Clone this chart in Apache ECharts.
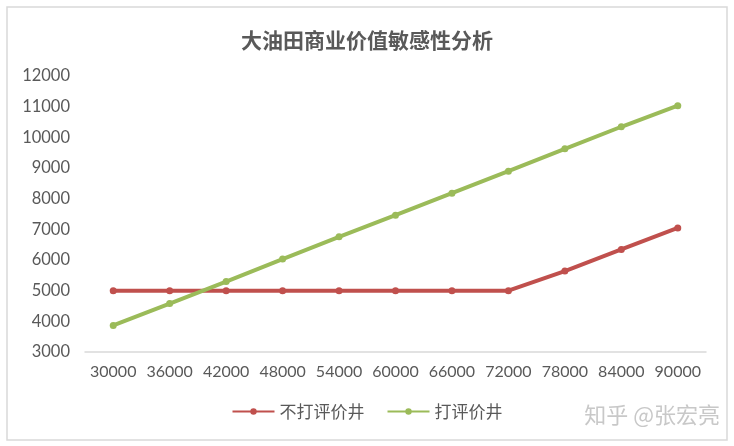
<!DOCTYPE html>
<html>
<head>
  <meta charset="utf-8" />
  <title>大油田商业价值敏感性分析</title>
  <script src="https://cdn.jsdelivr.net/npm/echarts@6/dist/echarts.min.js"></script>
  <style>
    html, body { margin: 0; padding: 0; background: #fff; }
    #chart-main { width: 734px; height: 446px; }
  </style>
</head>
<body>
<div id="chart-main"></div>
<script>
var categories = ['30000', '36000', '42000', '48000', '54000', '60000', '66000', '72000', '78000', '84000', '90000'];
var noWellValues = [5000, 5000, 5000, 5000, 5000, 5000, 5000, 5000, 5640, 6345, 7045];
var wellValues = [3865, 4580, 5295, 6030, 6755, 7460, 8180, 8895, 9625, 10345, 11030];
var seriesNames = ['不打评价井', '打评价井'];

var myChart = echarts.init(document.getElementById('chart-main'));

var textColor = '#595959';
var numFont = 'Lato, "Noto Sans", sans-serif';
var cjkFont = '"Noto Sans CJK SC", "Noto Sans", sans-serif';
var lineW = 4;

var option = {
  backgroundColor: '#fff',
  animation: false,
  title: {
    text: '大油田商业价值敏感性分析',
    left: 'center', top: 25,
    textStyle: { color: textColor, fontSize: 21, fontWeight: 'bold', fontFamily: cjkFont }
  },
  legend: {
    bottom: 21, left: 'center',
    itemWidth: 42, itemHeight: 8, itemGap: 22,
    textStyle: { color: textColor, fontSize: 17, fontFamily: cjkFont },
    data: seriesNames
  },
  grid: { left: 85, right: 28, top: 76, bottom: 94 },
  xAxis: {
    type: 'category',
    data: categories,
    boundaryGap: true,
    axisLine: { show: true, lineStyle: { color: '#d9d9d9', width: 1.5 } },
    axisTick: { show: false },
    axisLabel: { color: textColor, fontSize: 16, fontFamily: numFont, margin: 12, interval: 0 }
  },
  yAxis: {
    type: 'value',
    min: 3000, max: 12000, interval: 1000,
    axisLine: { show: false },
    axisTick: { show: false },
    splitLine: { show: false },
    axisLabel: {
      color: textColor, fontSize: 16.5, fontFamily: numFont, margin: 15,
      formatter: function (v) { return String(v); }
    }
  },
  series: [{
    name: seriesNames[0], type: 'line', data: noWellValues,
    symbol: 'circle', symbolSize: 7,
    itemStyle: { color: '#C0504D' },
    lineStyle: { color: '#C0504D', width: lineW }
  }, {
    name: seriesNames[1], type: 'line', data: wellValues,
    symbol: 'circle', symbolSize: 7,
    itemStyle: { color: '#9BBB59' },
    lineStyle: { color: '#9BBB59', width: lineW }
  }],
  graphic: [{
    type: 'rect', silent: true,
    shape: { x: 7, y: 7, width: 720, height: 433 },
    style: { fill: 'none', stroke: '#d9d9d9', lineWidth: 1.5 }
  }, {
    type: 'text', silent: true, right: 14, bottom: 20,
    style: { text: '知乎 @张宏亮', fill: '#c8c8c8', font: '22px "Noto Sans CJK SC", sans-serif' }
  }]
};

myChart.setOption(option);
</script>
</body>
</html>
